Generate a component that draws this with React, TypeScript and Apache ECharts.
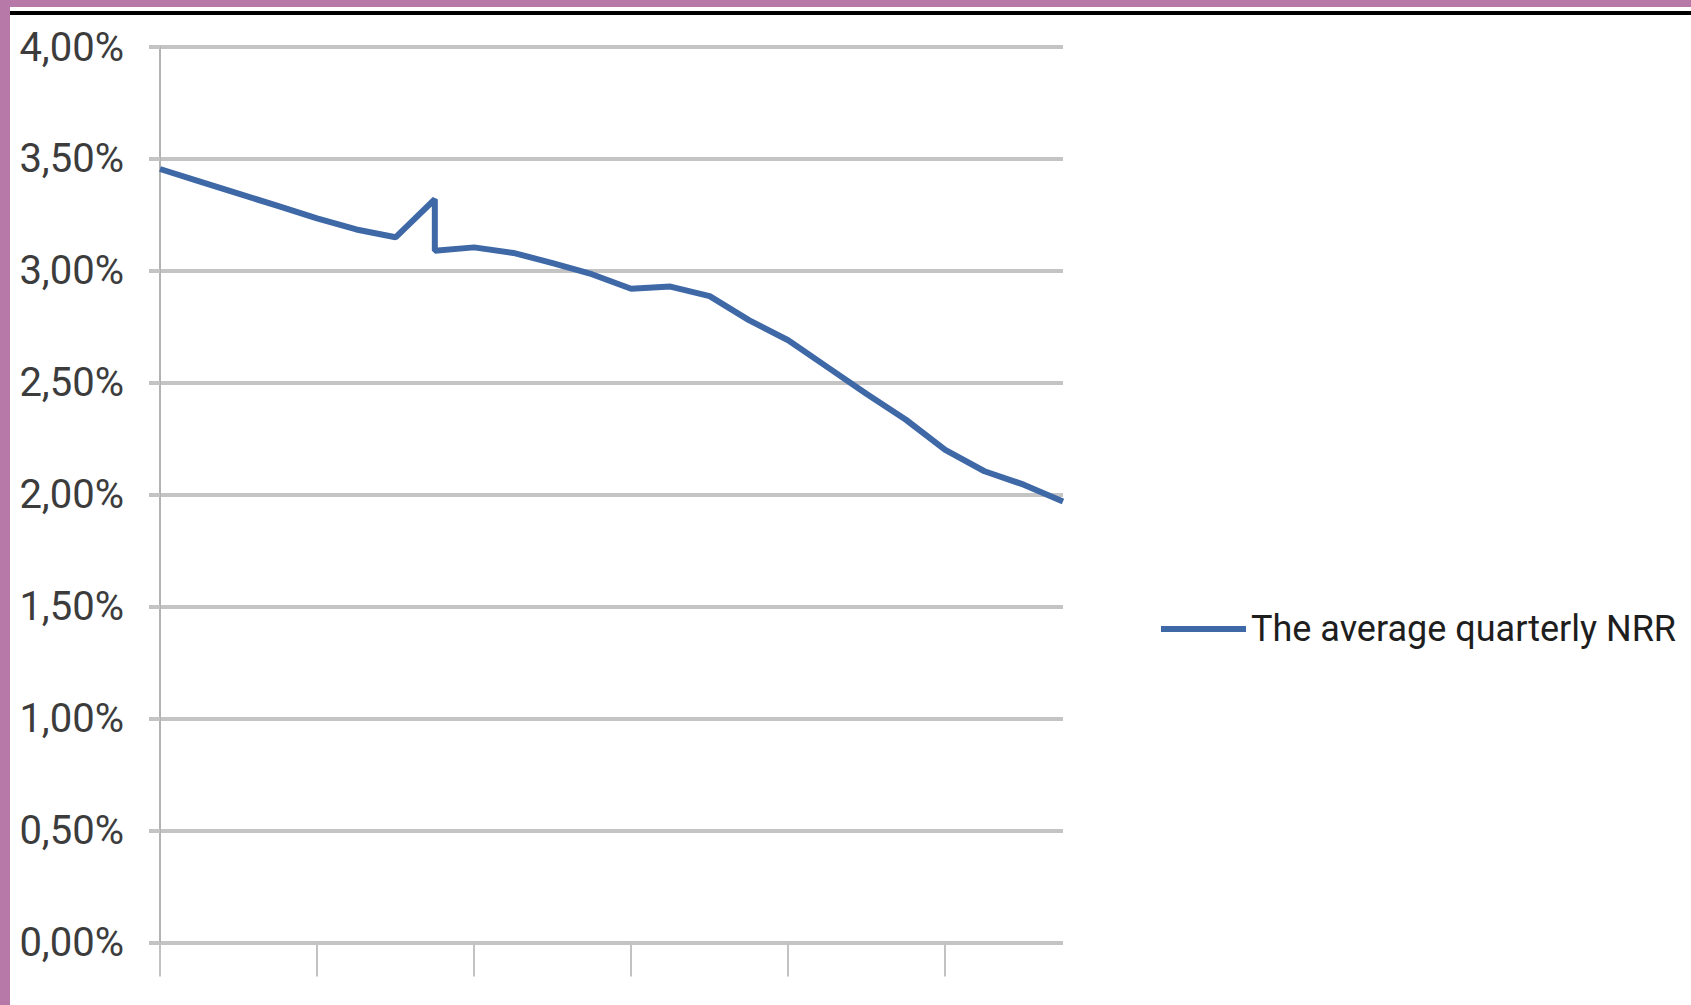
import React, { useEffect, useRef } from "react";
import * as echarts from "echarts";

// Quarter index (x) and average quarterly NRR in % (y); quarter 7 has two readings (vertical drop)
const quarterPos = [0, 1, 2, 3, 4, 5, 6, 7, 7, 8, 9, 10, 11, 12, 13, 14, 15, 16, 17, 18, 19, 20, 21, 22, 23];
const nrrValues = [
  3.455, 3.4, 3.345, 3.29, 3.235, 3.185, 3.15, 3.32, 3.09, 3.105, 3.08, 3.035, 2.985, 2.92, 2.93,
  2.887, 2.78, 2.69, 2.57, 2.45, 2.335, 2.2, 2.105, 2.045, 1.97,
];
const xTickValues = [0, 4, 8, 12, 16, 20];
const seriesName = "The average quarterly NRR";

const FONT = "Roboto, 'Liberation Sans Narrow', sans-serif";

export default function App() {
  const ref = useRef<HTMLDivElement>(null);
  useEffect(() => {
    if (!ref.current) return;
    const chart = echarts.init(ref.current, null, { renderer: "svg" });
    const data = quarterPos.map((x, i) => [x, nrrValues[i]]);
    chart.setOption({
      animation: false,
      backgroundColor: "#ffffff",
      grid: { left: 160, right: 628, top: 47, bottom: 62.5, containLabel: false },
      xAxis: {
        type: "value",
        min: 0,
        max: 23,
        interval: 4,
        axisLine: { show: false },
        axisLabel: { show: false },
        splitLine: { show: false },
        axisTick: {
          show: true,
          customValues: xTickValues,
          length: 34,
          lineStyle: { color: "#c2c2c2", width: 2 },
        },
      },
      yAxis: {
        type: "value",
        min: 0,
        max: 4,
        interval: 0.5,
        axisLine: { show: true, lineStyle: { color: "#b3b3b3", width: 2 } },
        axisTick: { show: true, length: 11, lineStyle: { color: "#c4c4c4", width: 4 } },
        splitLine: { show: true, lineStyle: { color: "#c4c4c4", width: 4 } },
        axisLabel: {
          margin: 36,
          color: "#3c3c3c",
          fontSize: 40,
          fontFamily: FONT,
          formatter: (v: number) => v.toFixed(2).replace(".", ",") + "%",
        },
      },
      legend: {
        show: true,
        data: [seriesName],
        left: 1156,
        top: 602,
        orient: "vertical",
        icon: "rect",
        itemWidth: 85,
        itemHeight: 6,
        textStyle: { fontSize: 36, fontFamily: FONT, color: "#1e1e1e", lineHeight: 44 },
      },
      series: [
        {
          name: seriesName,
          type: "line",
          data,
          symbol: "none",
          smooth: false,
          lineStyle: { color: "#3f68a6", width: 6 },
          itemStyle: { color: "#3f68a6" },
        },
      ],
      graphic: [
        { type: "rect", shape: { x: 0, y: 0, width: 1691, height: 7 }, style: { fill: "#b679a8" } },
        { type: "rect", shape: { x: 0, y: 0, width: 10, height: 1005 }, style: { fill: "#b679a8" } },
        { type: "rect", shape: { x: 10, y: 11, width: 1681, height: 4 }, style: { fill: "#000000" } },
      ],
    });
    return () => chart.dispose();
  }, []);
  return (
    <div
      ref={ref}
      style={{ position: "fixed", left: 0, top: 0, width: 1691, height: 1005, background: "#fff" }}
    />
  );
}
